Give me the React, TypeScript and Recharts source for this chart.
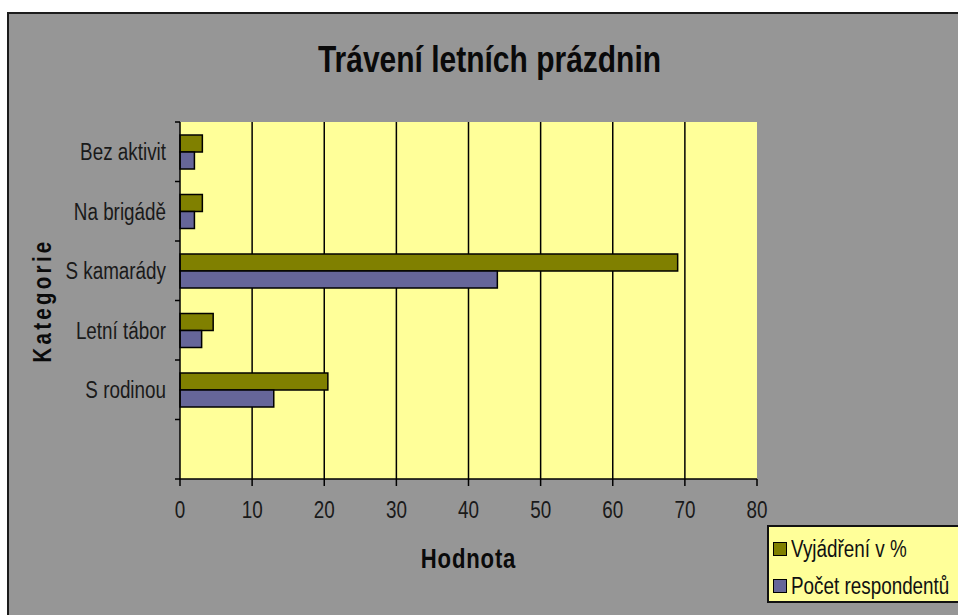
import React from 'react';
import { BarChart, Bar, XAxis, YAxis, CartesianGrid, Legend } from 'recharts';

const categories = ['Bez aktivit', 'Na brigádě', 'S kamarády', 'Letní tábor', 'S rodinou', ''];
const percentValues: (number | null)[] = [3.1, 3.1, 69, 4.6, 20.5, null];
const respondentValues: (number | null)[] = [2, 2, 44, 3, 13, null];
const xTicks = [0, 10, 20, 30, 40, 50, 60, 70, 80];
const gridValues = [10, 20, 30, 40, 50, 60, 70];
const seriesNames = ['Vyjádření v %', 'Počet respondentů'];
const seriesColors = ['#808000', '#666699'];
const titleText = 'Trávení letních prázdnin';
const xTitle = 'Hodnota';
const yTitle = 'Kategorie';

const data = categories.map((name, i) => ({
  name,
  pct: percentValues[i],
  cnt: respondentValues[i],
}));

const FONT = "'Liberation Sans', Arial, sans-serif";
const NARROW = 0.82;
const Y_TICK_SIZE = 5;
const Y_TICK_MARGIN = 9;

function YTick(props: any) {
  const { x, y, payload, index } = props;
  const half = payload && typeof payload.offset === 'number' ? payload.offset : 29.75;
  const ax = x + Y_TICK_MARGIN + Y_TICK_SIZE;
  const isLast = index === categories.length - 1;
  return (
    <g>
      <line x1={ax - Y_TICK_SIZE} x2={ax} y1={y - half} y2={y - half} stroke="#000" strokeWidth={1.5} />
      {isLast && (
        <line x1={ax - Y_TICK_SIZE} x2={ax} y1={y + half} y2={y + half} stroke="#000" strokeWidth={1.5} />
      )}
      <g transform={`translate(${x} ${y}) scale(${NARROW} 1)`}>
        <text x={0} y={0} dy="0.36em" textAnchor="end" fontFamily={FONT} fontSize={23} fill="#1a1a1a">
          {payload.value}
        </text>
      </g>
    </g>
  );
}

function XTick(props: any) {
  const { x, y, payload } = props;
  return (
    <g transform={`translate(${x} ${y}) scale(${NARROW} 1)`}>
      <text x={0} y={0} dy="0.71em" textAnchor="middle" fontFamily={FONT} fontSize={23} fill="#1a1a1a">
        {payload.value}
      </text>
    </g>
  );
}

function LegendBox(props: any) {
  const payload = (props.payload || [])
    .slice()
    .sort((a: any, b: any) => seriesNames.indexOf(a.value) - seriesNames.indexOf(b.value));
  return (
    <div
      style={{
        position: 'relative',
        width: 220,
        height: 74,
        background: '#FFFF99',
        border: '2px solid #111',
        boxSizing: 'content-box',
        fontFamily: FONT,
        fontSize: 23,
        color: '#111',
      }}
    >
      {payload.map((entry: any, i: number) => (
        <div
          key={i}
          style={{
            position: 'absolute',
            left: 4,
            top: 10 + i * 37,
            height: 24,
            display: 'flex',
            alignItems: 'center',
            whiteSpace: 'nowrap',
          }}
        >
          <span
            style={{
              display: 'inline-block',
              width: 12,
              height: 12,
              background: entry.color,
              border: '1.5px solid #000',
              marginRight: 4,
            }}
          />
          <span
            style={{
              display: 'inline-block',
              lineHeight: '24px',
              transform: `scaleX(${NARROW})`,
              transformOrigin: '0 50%',
            }}
          >
            {entry.value}
          </span>
        </div>
      ))}
    </div>
  );
}

export default function App() {
  return (
    <div
      style={{
        position: 'fixed',
        left: 0,
        top: 0,
        width: 958,
        height: 615,
        overflow: 'hidden',
        background: '#ffffff',
      }}
    >
      <div
        style={{
          position: 'absolute',
          left: 7,
          top: 12,
          width: 980,
          height: 640,
          background: '#969696',
          borderLeft: '2px solid #1c1c1c',
          borderTop: '2px solid #1c1c1c',
        }}
      />
      <div
        style={{
          position: 'absolute',
          left: 0,
          top: 41,
          width: 979,
          textAlign: 'center',
          fontFamily: FONT,
          fontWeight: 'bold',
          fontSize: 37,
          lineHeight: '37px',
          color: '#0a0a0a',
          whiteSpace: 'nowrap',
          transform: 'scaleX(0.81)',
          transformOrigin: '50% 50%',
        }}
      >
        {titleText}
      </div>
      <div style={{ position: 'absolute', left: 0, top: 0 }}>
        <BarChart
          width={958}
          height={615}
          data={data}
          layout="vertical"
          margin={{ top: 122, right: 201, bottom: 96, left: 0 }}
          barGap={0}
        >
          <CartesianGrid
            fill="#FFFF99"
            fillOpacity={1}
            horizontal={false}
            stroke="#000"
            strokeWidth={1.5}
            verticalValues={gridValues}
          />
          <XAxis
            type="number"
            domain={[0, 80]}
            ticks={xTicks}
            interval={0}
            height={40}
            tickSize={7}
            tickMargin={16}
            axisLine={{ stroke: '#000', strokeWidth: 1.5 }}
            tickLine={{ stroke: '#000', strokeWidth: 1.5 }}
            tick={<XTick />}
            label={{
              content: (p: any) => {
                const vb = p.viewBox || { x: 180, y: 479, width: 577, height: 40 };
                const cx = vb.x + vb.width / 2;
                const by = vb.y + vb.height + 49;
                return (
                  <g transform={`translate(${cx} ${by}) scale(${NARROW} 1)`}>
                    <text
                      x={0}
                      y={0}
                      textAnchor="middle"
                      fontFamily={FONT}
                      fontSize={27}
                      fontWeight="bold"
                      letterSpacing={1}
                      fill="#0a0a0a"
                    >
                      {xTitle}
                    </text>
                  </g>
                );
              },
            }}
          />
          <YAxis
            type="category"
            dataKey="name"
            width={180}
            tickSize={Y_TICK_SIZE}
            tickMargin={Y_TICK_MARGIN}
            tickLine={false}
            interval={0}
            axisLine={{ stroke: '#000', strokeWidth: 1.5 }}
            tick={<YTick />}
            label={{
              content: (p: any) => {
                const vb = p.viewBox || { x: 0, y: 122, width: 180, height: 357 };
                const cx = vb.x + 51;
                const cy = vb.y + vb.height / 2;
                return (
                  <g transform={`translate(${cx} ${cy}) rotate(-90) scale(${NARROW} 1)`}>
                    <text
                      x={0}
                      y={0}
                      textAnchor="middle"
                      fontFamily={FONT}
                      fontSize={25}
                      fontWeight="bold"
                      letterSpacing={4}
                      fill="#0a0a0a"
                    >
                      {yTitle}
                    </text>
                  </g>
                );
              },
            }}
          />
          <Legend
            layout="vertical"
            align="center"
            verticalAlign="middle"
            content={<LegendBox />}
            wrapperStyle={{ position: 'absolute', left: 767, top: 525, width: 230, height: 80, margin: 0 }}
          />
          <Bar
            dataKey="pct"
            name={seriesNames[0]}
            fill={seriesColors[0]}
            stroke="#000"
            strokeWidth={1.5}
            barSize={17}
            isAnimationActive={false}
          />
          <Bar
            dataKey="cnt"
            name={seriesNames[1]}
            fill={seriesColors[1]}
            stroke="#000"
            strokeWidth={1.5}
            barSize={17}
            isAnimationActive={false}
          />
        </BarChart>
      </div>
    </div>
  );
}
